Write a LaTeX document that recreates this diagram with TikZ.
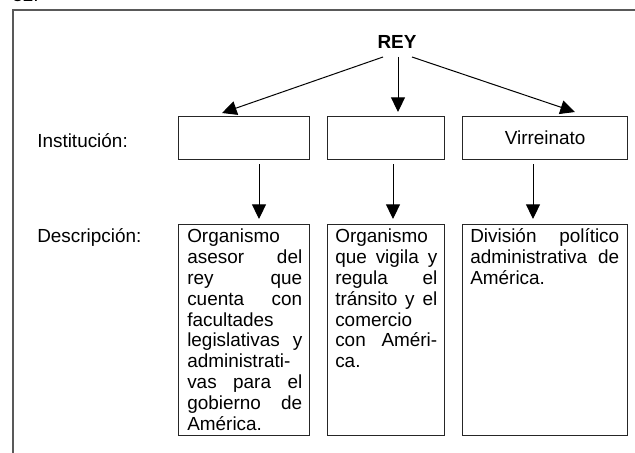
\documentclass[tikz,border=0pt]{standalone}
\usepackage{fontspec}
\setmainfont{Liberation Sans}
\usetikzlibrary{arrows.meta,calc}
\newdimen\linew
\newcommand\JLn[1]{\hbox to\linew{\strut #1}}
\newcommand\LLn[1]{\hbox to\linew{\strut #1\hfil}}
\begin{document}
\begin{tikzpicture}[x=0.75pt,y=-0.75pt,
  txt/.style={font=\fontsize{14.2}{15.7}\selectfont, inner sep=0pt},
  lbl/.style={txt, anchor=base west},
  ibox/.style={draw=black!85, line width=0.9pt, minimum height=32.25pt, anchor=north west, inner sep=0pt, txt},
  dbox/.style={draw=black!85, line width=0.9pt, minimum height=158.25pt, anchor=north west, inner sep=0pt},
  dtext/.style={txt, anchor=north west},
  arr/.style={line width=0.75pt, -{Triangle[length=11pt,width=10.5pt]}}]
\useasboundingbox (0,0) rectangle (635,453);
\draw[gray!70!black, line width=1.5pt] (13,470) -- (13,10) -- (650,10);
\node[lbl] (num) at (12,1.5) {32.};
\node[txt, font=\fontsize{14.2}{16}\selectfont\bfseries, anchor=base] (rey) at (397,49) {REY};
\node[lbl] (linst) at (37,147) {Institución:};
\node[lbl] (ldesc) at (37,242) {Descripción:};
\node[ibox, minimum width=98.25pt] (i1) at (178,116) {};
\node[ibox, minimum width=87.75pt] (i2) at (327,116) {};
\node[ibox, minimum width=123.75pt] (i3) at (462,116) {Virreinato};
\node[dbox, minimum width=98.25pt] (d1) at (178,224) {};
\node[dbox, minimum width=87.75pt] (d2) at (327,224) {};
\node[dbox, minimum width=123.75pt] (d3) at (462,224) {};
\node[dtext] (d1t) at (187,227.4) {\linew=86.25pt\vbox{%
\LLn{Organismo}\JLn{asesor del}\JLn{rey que}\JLn{cuenta con}\LLn{facultades}%
\JLn{legislativas y}\LLn{administrati-}\JLn{vas para el}\JLn{gobierno de}\LLn{América.}}};
\node[dtext] (d2t) at (335,227.4) {\linew=76.5pt\vbox{%
\LLn{Organismo}\JLn{que vigila y}\JLn{regula el}\JLn{tránsito y el}\LLn{comercio}%
\JLn{con Améri-}\LLn{ca.}}};
\node[dtext] (d3t) at (470,227.4) {\linew=111.75pt\vbox{%
\JLn{División político}\JLn{administrativa de}\LLn{América.}}};
\draw[arr] ($(rey.base)+(-14,8)$) -- ($(i1.north west)+(44,-3)$);
\draw[arr] ($(rey.base)+(1,8)$) -- ($(i2.north west)+(71,-4)$);
\draw[arr] ($(rey.base)+(15,8)$) -- ($(i3.north west)+(113,-4)$);
\draw[arr] ($(i1.south west)+(81,4)$) -- ($(d1.north west)+(81,-5)$);
\draw[arr] ($(i2.south west)+(66,4)$) -- ($(d2.north west)+(66,-5)$);
\draw[arr] ($(i3.south west)+(71,4)$) -- ($(d3.north west)+(71,-5)$);
\end{tikzpicture}
\end{document}
